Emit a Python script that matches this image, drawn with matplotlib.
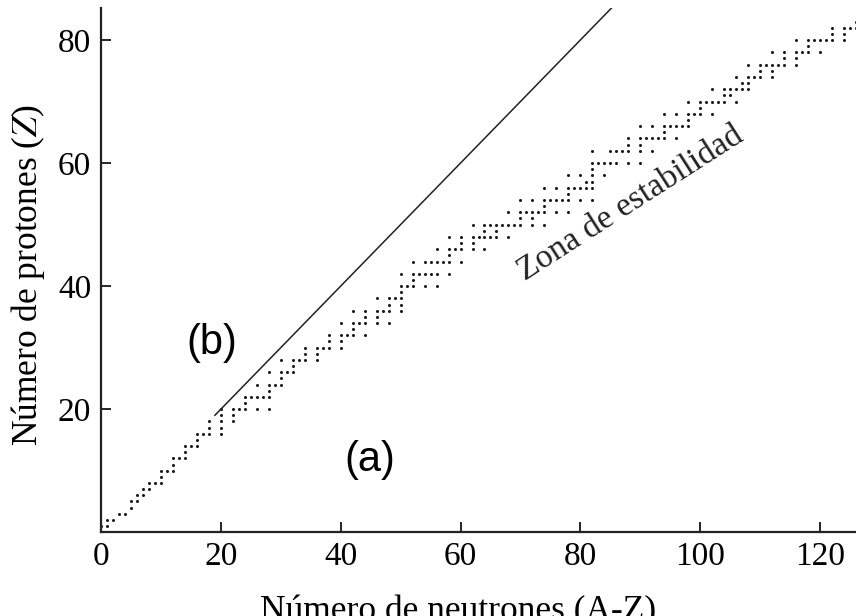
import matplotlib
matplotlib.use("Agg")
import matplotlib.pyplot as plt

# mass numbers A of the stable nuclides, one list per element, Z = 1..83
stable_A = [
    [1, 2], [3, 4], [6, 7], [9], [10, 11], [12, 13], [14, 15], [16, 17, 18],
    [19], [20, 21, 22], [23], [24, 25, 26], [27], [28, 29, 30], [31],
    [32, 33, 34, 36], [35, 37], [36, 38, 40], [39, 41], [40, 42, 43, 44, 46, 48],
    [45], [46, 47, 48, 49, 50], [51], [50, 52, 53, 54], [55], [54, 56, 57, 58],
    [59], [58, 60, 61, 62, 64], [63, 65], [64, 66, 67, 68, 70], [69, 71],
    [70, 72, 73, 74, 76], [75], [74, 76, 77, 78, 80, 82], [79, 81],
    [78, 80, 82, 83, 84, 86], [85, 87], [84, 86, 87, 88], [89],
    [90, 91, 92, 94, 96], [93], [92, 94, 95, 96, 97, 98, 100], [],
    [96, 98, 99, 100, 101, 102, 104], [103], [102, 104, 105, 106, 108, 110],
    [107, 109], [106, 108, 110, 111, 112, 113, 114, 116], [113, 115],
    [112, 114, 115, 116, 117, 118, 119, 120, 122, 124], [121, 123],
    [120, 122, 123, 124, 125, 126, 128, 130], [127],
    [124, 126, 128, 129, 130, 131, 132, 134, 136], [133],
    [130, 132, 134, 135, 136, 137, 138], [138, 139], [136, 138, 140, 142],
    [141], [142, 143, 144, 145, 146, 148, 150], [],
    [144, 147, 148, 149, 150, 152, 154], [151, 153],
    [152, 154, 155, 156, 157, 158, 160], [159],
    [156, 158, 160, 161, 162, 163, 164], [165], [162, 164, 166, 167, 168, 170],
    [169], [168, 170, 171, 172, 173, 174, 176], [175, 176],
    [174, 176, 177, 178, 179, 180], [180, 181], [180, 182, 183, 184, 186],
    [185, 187], [184, 186, 187, 188, 189, 190, 192], [191, 193],
    [190, 192, 194, 195, 196, 198], [197], [196, 198, 199, 200, 201, 202, 204],
    [203, 205], [204, 206, 207, 208], [209],
]

x_ticks = [0, 20, 40, 60, 80, 100, 120]
y_ticks = [20, 40, 60, 80]
line_N = [19, 86]  # N = Z reference line

neutrons = []
protons = []
for z, masses in enumerate(stable_A, start=1):
    for a in masses:
        neutrons.append(a - z)
        protons.append(z)

serif = "Liberation Serif"
plt.rcParams["mathtext.fontset"] = "stix"

fig = plt.figure(figsize=(8.56, 6.16), dpi=100)
ax = fig.add_axes([0.118, 0.136, 0.882, 0.851])

ax.plot(neutrons, protons, linestyle="none", marker="o", ms=2.2,
        color="#1a1a1a", mec="none")
ax.plot(line_N, line_N, color="#222222", lw=1.1)

ax.set_xlim(0, 126)
ax.set_ylim(0, 85.2)
ax.set_xticks(x_ticks)
ax.set_yticks(y_ticks)
ax.tick_params(direction="in", length=7, width=1.2, pad=7)
ax.set_xticklabels([str(t) for t in x_ticks], fontsize=24, family=serif)
ax.set_yticklabels([str(t) for t in y_ticks], fontsize=24, family=serif)

for side in ("top", "right"):
    ax.spines[side].set_visible(False)
for side in ("left", "bottom"):
    ax.spines[side].set_linewidth(1.6)
    ax.spines[side].set_color("#222222")

ax.set_ylabel("Número de protones ($Z$)", fontsize=25.5, family=serif)
ax.yaxis.set_label_coords(-0.072, 0.49)
ax.set_xlabel("Número de neutrones (A-Z)", fontsize=25.5, family=serif)
ax.xaxis.set_label_coords(0.473, -0.12)

ax.text(88.3, 53.5, "Zona de estabilidad", rotation=32.7, fontsize=24,
        family=serif, ha="center", va="center", color="#222222")
ax.text(18.5, 30.7, "(b)", fontsize=30, family="Liberation Sans",
        ha="center", va="center")
ax.text(44.8, 11.7, "(a)", fontsize=30, family="Liberation Sans",
        ha="center", va="center")

fig.savefig("out.png", dpi=100)
